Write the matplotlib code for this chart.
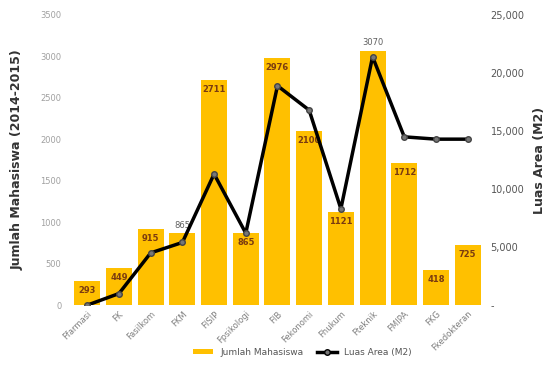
import matplotlib
matplotlib.use("Agg")
import matplotlib.pyplot as plt
from matplotlib.lines import Line2D
from matplotlib.patches import Patch

categories = ["Ffarmasi", "FK", "Fasilkom", "FKM", "FISIP", "Fpsikologi", "FIB",
              "Fekonomi", "Fhukum", "Fteknik", "FMIPA", "FKG", "Fkedokteran"]
mahasiswa = [293, 449, 915, 865, 2711, 865, 2976, 2100, 1121, 3070, 1712, 418, 725]
luas_area = [0, 1000, 4500, 5400, 11300, 6200, 18900, 16800, 8300, 21400, 14500, 14300, 14300]
left_ticks = [0, 500, 1000, 1500, 2000, 2500, 3000, 3500]
right_ticks = [0, 5000, 10000, 15000, 20000, 25000]

plt.rcParams['font.family'] = ['DejaVu Sans']
fig = plt.figure(figsize=(5.5, 3.65), dpi=100)
ax = fig.add_axes([0.127, 0.164, 0.755, 0.795])
ax2 = ax.twinx()

x = list(range(len(categories)))
bars = ax.bar(x, mahasiswa, width=0.82, color="#FFC000", zorder=1)
ax.set_ylim(0, 3500)
ax.set_xlim(-0.55, len(categories) - 0.45)
ax.set_yticks(left_ticks)
ax.set_yticklabels([str(t) for t in left_ticks], fontsize=6, color="#A0A0A0")
ax.set_xticks(x)
ax.set_xticklabels(categories, rotation=45, ha="right", rotation_mode="anchor",
                   fontsize=6, color="#808080")
ax.tick_params(length=0, pad=6)
ax.tick_params(axis='x', pad=3)
for s in ax.spines.values():
    s.set_visible(False)
ax.set_ylabel("Jumlah Mahasiswa (2014-2015)", fontsize=9, fontweight="bold",
              color="#333333", labelpad=12)

outside = {3, 9}
for i, v in enumerate(mahasiswa):
    if i in outside:
        ax.text(i, v + 40, str(v), ha="center", va="bottom", fontsize=6,
                color="#606060")
    else:
        ax.text(i, v - 60, str(v), ha="center", va="top", fontsize=6,
                fontweight="bold", color="#7A3B10")

ax2.plot(x, luas_area, color="black", lw=2.5, marker="o", markersize=4,
         markerfacecolor="#777777", markeredgecolor="#444444", zorder=3)
ax2.set_ylim(0, 25000)
ax2.set_yticks(right_ticks)
ax2.set_yticklabels(["-" if t == 0 else f"{t:,}" for t in right_ticks],
                    fontsize=7, color="#555555")
ax2.tick_params(length=0, pad=4)
for s in ax2.spines.values():
    s.set_visible(False)
ax2.set_ylabel("Luas Area (M2)", fontsize=9, fontweight="bold", color="#333333",
               labelpad=6)

handles = [Patch(facecolor="#FFC000", label="Jumlah Mahasiswa"),
           Line2D([0], [0], color="black", lw=2.5, marker="o", markersize=4,
                  markerfacecolor="#777777", label="Luas Area (M2)")]
fig.legend(handles=handles, loc="lower center", bbox_to_anchor=(0.55, 0.0),
           ncol=2, frameon=False, fontsize=6.5, labelcolor="#555555",
           handlelength=2.2, columnspacing=1.5, handleheight=0.5)

fig.savefig("out.png", dpi=100)
